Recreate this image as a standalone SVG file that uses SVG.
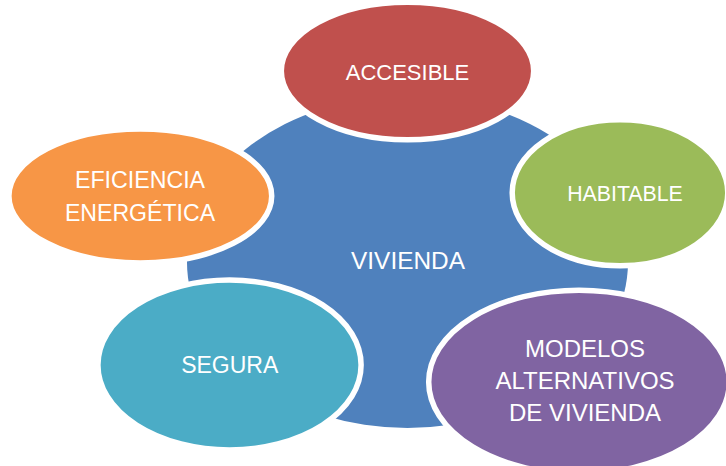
<svg xmlns="http://www.w3.org/2000/svg" width="726" height="466" viewBox="0 0 726 466">
  <style>
    .node { stroke: #FFFFFF; stroke-width: 5.5; }
    .lbl { font-family: "Liberation Sans", Arial, sans-serif; fill: #FFFFFF; text-anchor: middle; }
  </style>
  <rect x="0" y="0" width="726" height="466" fill="#FFFFFF"/>
  <g id="vivienda">
    <ellipse cx="407.5" cy="262" rx="220.5" ry="166" fill="#4F81BD"/>
    <text class="lbl" x="408" y="269.3" font-size="24.4">VIVIENDA</text>
  </g>
  <g id="connectors"/>
  <g id="accesible">
    <ellipse class="node" cx="407.5" cy="71" rx="126.2" ry="68.8" fill="#C0504D"/>
    <text class="lbl" x="407.5" y="80" font-size="22">ACCESIBLE</text>
  </g>
  <g id="habitable">
    <ellipse class="node" cx="620" cy="192.8" rx="107.8" ry="73" fill="#9BBB59"/>
    <text class="lbl" x="625" y="201" font-size="21.3">HABITABLE</text>
  </g>
  <g id="modelos">
    <ellipse class="node" cx="579" cy="382" rx="150.3" ry="91.8" fill="#8064A2"/>
    <text class="lbl" x="585" y="356.7" font-size="24">MODELOS</text>
    <text class="lbl" x="585" y="389.3" font-size="24">ALTERNATIVOS</text>
    <text class="lbl" x="585" y="421" font-size="24">DE VIVIENDA</text>
  </g>
  <g id="segura">
    <ellipse class="node" cx="229.5" cy="365" rx="131.6" ry="85" fill="#4BACC6"/>
    <text class="lbl" x="229.7" y="372.7" font-size="23">SEGURA</text>
  </g>
  <g id="eficiencia">
    <ellipse class="node" cx="140.3" cy="195.9" rx="131.4" ry="67" fill="#F79646"/>
    <text class="lbl" x="140" y="188.3" font-size="23.2">EFICIENCIA</text>
    <text class="lbl" x="140" y="220.7" font-size="23.1">ENERGÉTICA</text>
  </g>
</svg>
